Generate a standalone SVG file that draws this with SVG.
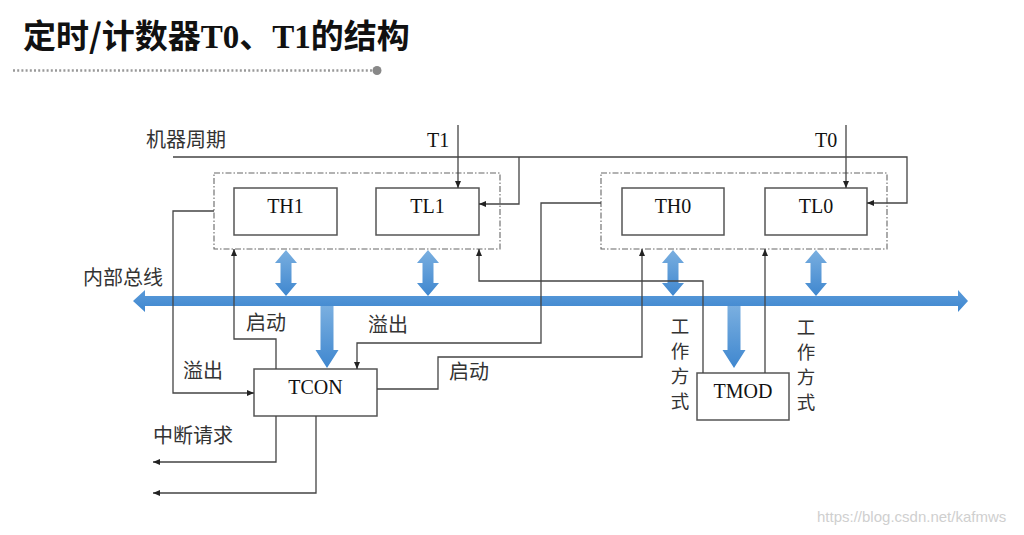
<svg xmlns="http://www.w3.org/2000/svg" width="1024" height="535" viewBox="0 0 1024 535">
<defs>
<style>
.reg{fill:#fff;stroke:#555;stroke-width:1.5}
.grp{fill:none;stroke:#666;stroke-width:1.1;stroke-dasharray:6 2 1.5 2}
.lat{font-family:"Liberation Serif","Times New Roman",serif;font-size:20px;fill:#111}
.cjk{font-family:"Noto Sans CJK SC","Noto Sans",sans-serif;font-size:20px;fill:#333}
.vt{font-family:"Noto Sans CJK SC","Noto Sans",sans-serif;font-size:18.5px;fill:#333}
.wire{fill:none;stroke:#444;stroke-width:1.3}
.blue{fill:url(#gv)}
</style>
<linearGradient id="gv" x1="0" y1="0" x2="0" y2="1">
<stop offset="0" stop-color="#7aafe0"/>
<stop offset="1" stop-color="#3f87cf"/>
</linearGradient>
<linearGradient id="gb" x1="0" y1="0" x2="0" y2="1">
<stop offset="0" stop-color="#5a9ad9"/>
<stop offset="1" stop-color="#3f87cf"/>
</linearGradient>
<marker id="ah" markerUnits="userSpaceOnUse" markerWidth="8" markerHeight="6" refX="7" refY="3" orient="auto">
<path d="M0,0 L7,3 L0,6 z" fill="#222"/>
</marker>
</defs>
<rect width="1024" height="535" fill="#fff"/>

<g id="title">
<text x="23" y="48" font-family="Noto Sans CJK SC, sans-serif" font-weight="bold" font-size="33" fill="#111">定时/计数器<tspan font-family="Liberation Serif, serif">T0</tspan>、<tspan font-family="Liberation Serif, serif">T1</tspan>的结构</text>
<line x1="13" y1="70.5" x2="372" y2="70.5" stroke="#999" stroke-width="2.5" stroke-dasharray="2 2.2"/>
<circle cx="377" cy="70.5" r="4.5" fill="#888"/>
</g>

<g id="bus">
<polygon style="fill:url(#gb)" points="133,301 145,290 145,296 958,296 958,290 968,301 958,312 958,306 145,306 145,312"/>
<text class="cjk" x="83" y="285">内部总线</text>
</g>

<g id="group-t1">
<rect class="grp" x="214" y="173" width="286" height="76"/>
</g>
<g id="group-t0">
<rect class="grp" x="601" y="173" width="286" height="76"/>
</g>

<g id="TH1">
<rect class="reg" x="234" y="188" width="103" height="47"/>
<text class="lat" x="285.5" y="213" text-anchor="middle">TH1</text>
</g>
<g id="TL1">
<rect class="reg" x="376" y="188" width="103" height="47"/>
<text class="lat" x="427.5" y="213" text-anchor="middle">TL1</text>
</g>
<g id="TH0">
<rect class="reg" x="622" y="188" width="102" height="47"/>
<text class="lat" x="673" y="213" text-anchor="middle">TH0</text>
</g>
<g id="TL0">
<rect class="reg" x="765" y="188" width="102" height="47"/>
<text class="lat" x="816" y="213" text-anchor="middle">TL0</text>
</g>
<g id="TCON">
<rect class="reg" x="254" y="369" width="123" height="47"/>
<text class="lat" x="315.5" y="394" text-anchor="middle">TCON</text>
</g>
<g id="TMOD">
<rect class="reg" x="697" y="373" width="92" height="47"/>
<text class="lat" x="743" y="398" text-anchor="middle">TMOD</text>
</g>

<g id="bus-arrows">
<polygon class="blue" points="286,250 297,263 291.5,263 291.5,283 297,283 286,296 275,283 280.5,283 280.5,263 275,263"/>
<polygon class="blue" points="428,250 439,263 433.5,263 433.5,283 439,283 428,296 417,283 422.5,283 422.5,263 417,263"/>
<polygon class="blue" points="673,250 684,263 678.5,263 678.5,283 684,283 673,296 662,283 667.5,283 667.5,263 662,263"/>
<polygon class="blue" points="816,250 827,263 821.5,263 821.5,283 827,283 816,296 805,283 810.5,283 810.5,263 805,263"/>
<polygon class="blue" points="320.5,306 333.5,306 333.5,350 338.5,350 327,368 315.5,350 320.5,350"/>
<polygon class="blue" points="727.5,306 740.5,306 740.5,350 745.5,350 734,368 722.5,350 727.5,350"/>
</g>

<g id="connectors">
<polyline class="wire" points="173,157 907,157 907,203 867,203" marker-end="url(#ah)"/>
<polyline class="wire" points="519,157 519,204 479,204" marker-end="url(#ah)"/>
<polyline class="wire" points="458,125 458,188" marker-end="url(#ah)"/>
<polyline class="wire" points="846,125 846,188" marker-end="url(#ah)"/>
<polyline class="wire" points="214,211 173,211 173,393 254,393" marker-end="url(#ah)"/>
<polyline class="wire" points="276,369 276,339 234,339 234,249" marker-end="url(#ah)"/>
<polyline class="wire" points="601,203 541,203 541,343 357,343 357,369" marker-end="url(#ah)"/>
<polyline class="wire" points="377,389 438,389 438,357 642,357 642,249" marker-end="url(#ah)"/>
<polyline class="wire" points="703,373 703,281 479,281 479,249" marker-end="url(#ah)"/>
<polyline class="wire" points="765,373 765,249" marker-end="url(#ah)"/>
<polyline class="wire" points="276,416 276,462 153,462" marker-end="url(#ah)"/>
<polyline class="wire" points="316,416 316,493 153,493" marker-end="url(#ah)"/>
</g>

<g id="labels">
<text class="cjk" x="146" y="147">机器周期</text>
<text class="lat" x="427" y="147">T1</text>
<text class="lat" x="815" y="147">T0</text>
<text class="cjk" x="246" y="330">启动</text>
<text class="cjk" x="368" y="332">溢出</text>
<text class="cjk" x="183" y="378">溢出</text>
<text class="cjk" x="449" y="379">启动</text>
<text class="cjk" x="153" y="443">中断请求</text>
<text class="vt" x="680" y="333" text-anchor="middle">工</text>
<text class="vt" x="680" y="358" text-anchor="middle">作</text>
<text class="vt" x="680" y="383" text-anchor="middle">方</text>
<text class="vt" x="680" y="408" text-anchor="middle">式</text>
<text class="vt" x="806" y="334" text-anchor="middle">工</text>
<text class="vt" x="806" y="359" text-anchor="middle">作</text>
<text class="vt" x="806" y="384" text-anchor="middle">方</text>
<text class="vt" x="806" y="409" text-anchor="middle">式</text>
</g>

<text id="watermark" x="817" y="522" font-family="Liberation Sans, Arial, sans-serif" font-size="15" fill="#cfcfcf">https://blog.csdn.net/kafmws</text>
</svg>
